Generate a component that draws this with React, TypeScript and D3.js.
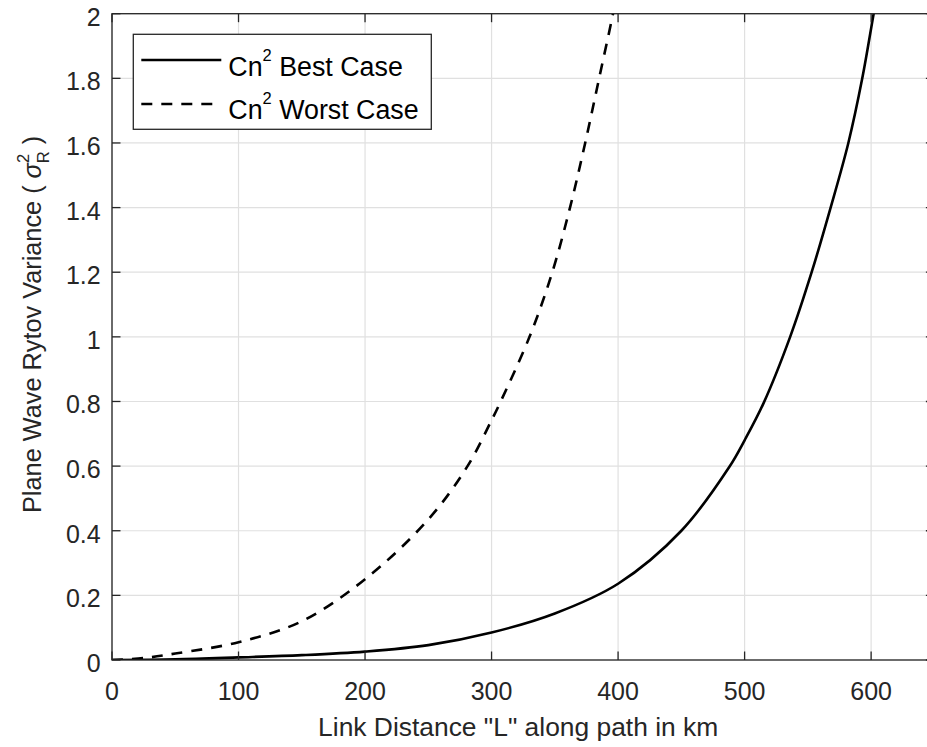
import React from 'react';
import * as d3 from 'd3';

// ---- data ----
const xTicks = [0, 100, 200, 300, 400, 500, 600];
const xTickLabels = ['0', '100', '200', '300', '400', '500', '600'];
const yTicks = [0, 0.2, 0.4, 0.6, 0.8, 1, 1.2, 1.4, 1.6, 1.8, 2];
const yTickLabels = ['0', '0.2', '0.4', '0.6', '0.8', '1', '1.2', '1.4', '1.6', '1.8', '2'];

const distBest = [0, 50, 100, 150, 200, 250, 300, 350, 400, 450, 488, 500, 515, 536, 553, 568, 582, 593, 602, 610];
const rytovBest = [0, 0.002, 0.008, 0.015, 0.026, 0.046, 0.085, 0.144, 0.236, 0.4, 0.598, 0.68, 0.795, 1.0, 1.2, 1.4, 1.6, 1.8, 2.0, 2.18];

const distWorst = [0, 25, 50, 100, 150, 200, 250, 281, 300, 306, 330, 348, 362, 374, 385, 396, 402];
const rytovWorst = [0, 0.006, 0.02, 0.055, 0.12, 0.25, 0.435, 0.6, 0.742, 0.79, 1.0, 1.2, 1.4, 1.6, 1.8, 2.0, 2.12];

const seriesNames = ['Best Case', 'Worst Case'];

const FONT = "'Liberation Sans', Arial, Helvetica, sans-serif";
const AX = '#262626';

export default function App() {
  const W = 927, H = 747;
  const left = 112, top = 13.7, bottom = 660;
  const x = d3.scaleLinear().domain([0, 650]).range([left, left + 650 * 1.2652]);
  const y = d3.scaleLinear().domain([0, 2]).range([bottom, top]);
  const right = x(650);

  const line = d3
    .line<[number, number]>()
    .x((d) => x(d[0]))
    .y((d) => y(d[1]))
    .curve(d3.curveCatmullRom.alpha(0.5));

  const best = distBest.map((d, i) => [d, rytovBest[i]] as [number, number]);
  const worst = distWorst.map((d, i) => [d, rytovWorst[i]] as [number, number]);
  const tickLen = 8.5;

  const legX = 133.3, legY = 34.3, legW = 298, legH = 95;
  const rows = [
    { name: seriesNames[0], dash: undefined as string | undefined, ly: 60, by: 75.5 },
    { name: seriesNames[1], dash: '11,9', ly: 104, by: 119 },
  ];

  return (
    <svg
      width={W}
      height={H}
      style={{ position: 'absolute', left: 0, top: 0, display: 'block', background: '#fff' }}
      fontFamily={FONT}
    >
      <defs>
        <clipPath id="plotclip">
          <rect x={left} y={top} width={right - left} height={bottom - top} />
        </clipPath>
      </defs>
      <rect x={0} y={0} width={W} height={H} fill="#fff" />
      {/* grid */}
      <g stroke="#e0e0e0" strokeWidth={1.2}>
        {xTicks.map((t) => (
          <line key={'gx' + t} x1={x(t)} x2={x(t)} y1={top} y2={bottom} />
        ))}
        {yTicks.map((t) => (
          <line key={'gy' + t} x1={left} x2={right} y1={y(t)} y2={y(t)} />
        ))}
      </g>
      {/* curves */}
      <g clipPath="url(#plotclip)" fill="none" stroke="#000" strokeWidth={2.6}>
        <path d={line(best) || ''} />
        <path d={line(worst) || ''} strokeDasharray="11,9" />
      </g>
      {/* axes box + ticks */}
      <g stroke={AX} strokeWidth={1.3} fill="none">
        <rect x={left} y={top} width={right - left} height={bottom - top} />
        {xTicks.map((t) => (
          <g key={'tx' + t}>
            <line x1={x(t)} x2={x(t)} y1={bottom} y2={bottom - tickLen} />
            <line x1={x(t)} x2={x(t)} y1={top} y2={top + tickLen} />
          </g>
        ))}
        {yTicks.map((t) => (
          <g key={'ty' + t}>
            <line x1={left} x2={left + tickLen} y1={y(t)} y2={y(t)} />
            <line x1={right} x2={right - tickLen} y1={y(t)} y2={y(t)} />
          </g>
        ))}
      </g>
      {/* tick labels */}
      <g fill={AX} fontSize={25}>
        {xTicks.map((t, i) => (
          <text key={'lx' + t} x={x(t)} y={700} textAnchor="middle">
            {xTickLabels[i]}
          </text>
        ))}
        {yTicks.map((t, i) => (
          <text key={'ly' + t} x={100.7} y={y(t) + 12} textAnchor="end">
            {yTickLabels[i]}
          </text>
        ))}
      </g>
      {/* axis labels */}
      <text x={(left + right) / 2 - 5} y={736} textAnchor="middle" fontSize={26.4} fill={AX}>
        {'Link Distance "L" along path in km'}
      </text>
      <text
        transform="translate(41,513) rotate(-90)"
        fontSize={25.3}
        fill={AX}
        style={{ whiteSpace: 'pre' }}
      >
        {'Plane Wave Rytov Variance ( '}
        <tspan fontStyle="italic">{'σ'}</tspan>
        <tspan fontSize={16.5} dy={-12}>{'2'}</tspan>
        <tspan fontSize={16.5} dx={-9.2} dy={19.5}>{'R'}</tspan>
        <tspan dy={-7.5}>{' )'}</tspan>
      </text>
      {/* legend */}
      <rect x={legX} y={legY} width={legW} height={legH} fill="#fff" stroke={AX} strokeWidth={1.3} />
      {rows.map((r) => (
        <g key={r.name}>
          <line
            x1={141.3}
            x2={221.3}
            y1={r.ly}
            y2={r.ly}
            stroke="#000"
            strokeWidth={2.6}
            strokeDasharray={r.dash}
          />
          <text x={228.3} y={r.by} fontSize={26.8} fill="#000" style={{ whiteSpace: 'pre' }}>
            {'Cn'}
            <tspan fontSize={16.5} dy={-15}>{'2'}</tspan>
            <tspan dy={15}>{' ' + r.name}</tspan>
          </text>
        </g>
      ))}
    </svg>
  );
}
